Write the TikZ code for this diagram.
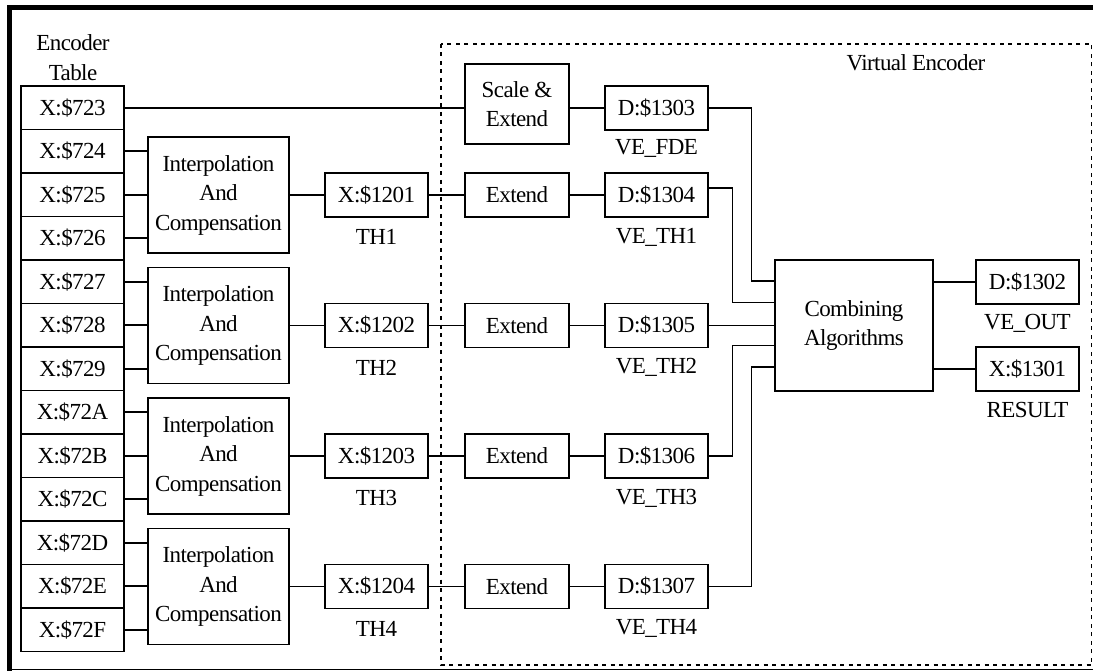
\documentclass[tikz,border=0pt]{standalone}
\usepackage{fontspec}
\setmainfont{Liberation Serif}[LetterSpace=-2.5]
\usetikzlibrary{calc}
\begin{document}
\begin{tikzpicture}[x=1pt,y=-1pt,
  txt/.style={inner sep=0pt,align=center,font=\fontsize{23}{29.5}\selectfont},
  box/.style={txt,draw,line width=1.3pt},
  cell/.style={box,minimum width=103pt,minimum height=43.5pt},
  reg/.style={box,minimum width=103pt,minimum height=44pt},
  procbox/.style={box,minimum width=141pt,minimum height=116pt},
  extbox/.style={box,minimum width=104pt,minimum height=44pt},
  wire/.style={line width=1.6pt},
  region/.style={line width=1.5pt,dash pattern=on 4pt off 4.5pt}]
\useasboundingbox (0,0) rectangle (1093,671);

% outer frame
\draw[line width=5.5pt] (1093,7.7) -- (9.3,7.7) -- (9.3,671);
\draw[line width=1.3pt] (9.3,669.3) -- (1093,669.3);

% virtual encoder region
\draw[region] (441,44) rectangle (1091.5,665);
\node[txt] (vetitle) at (916,63) {Virtual Encoder};

% encoder table
\node[txt] (enctitle) at (73,57.5) {Encoder\\Table};
\foreach \lab [count=\i from 0] in {723,724,725,726,727,728,729,72A,72B,72C,72D,72E,72F}
  \node[cell] (enc\i) at (72.5,{86+43.5*(\i+0.5)}) {X:\$\lab};

% first entry goes straight to the scale & extend stage
\node[extbox,minimum height=80pt] (sext) at (517,104) {Scale \&\\Extend};
\node[reg] (d3) at (656.5,108) {D:\$1303};
\node[txt] (l3) at (656.5,148) {VE\_FDE};
\draw[wire] (enc0.east) -- (sext.west |- enc0.east);
\draw[wire] (sext.east |- d3.west) -- (d3.west);

% four interpolation channels
\foreach \k/\th/\dd/\ve [count=\n from 1] in {0/1201/1304/VE\_TH1,1/1202/1305/VE\_TH2,2/1203/1306/VE\_TH3,3/1204/1307/VE\_TH4} {
  \node[procbox] (ip\n) at (218.5,{195+130.5*\k}) {Interpolation\\And\\Compensation};
  \node[reg] (th\n) at (376.5,{195+130.5*\k}) {X:\$\th};
  \node[txt] (thl\n) at (376.5,{237+130.5*\k}) {TH\n};
  \node[extbox] (ex\n) at (517,{195+130.5*\k}) {Extend};
  \node[reg] (dv\n) at (656.5,{195+130.5*\k}) {D:\$\dd};
  \node[txt] (dvl\n) at (656.5,{237+130.5*\k}) {\ve};
  \draw[wire] (ip\n.east) -- (th\n.west);
  \draw[wire] (th\n.east) -- (ex\n.west);
  \draw[wire] (ex\n.east) -- (dv\n.west);
}
\foreach \n/\a/\b/\c in {1/1/2/3,2/4/5/6,3/7/8/9,4/10/11/12} {
  \draw[wire] (enc\a.east) -- (ip\n.west |- enc\a.east);
  \draw[wire] (enc\b.east) -- (ip\n.west |- enc\b.east);
  \draw[wire] (enc\c.east) -- (ip\n.west |- enc\c.east);
}

% combining stage
\node[box,minimum width=158pt,minimum height=131pt] (comb) at (854,325.5) {Combining\\Algorithms};
\coordinate (ci1) at ($(comb.north west)+(0,21.5)$);
\coordinate (ci2) at ($(comb.north west)+(0,43)$);
\coordinate (ci4) at ($(comb.north west)+(0,86)$);
\coordinate (ci5) at ($(comb.north west)+(0,107.5)$);
\draw[wire] (d3.east) -- ++(43,0) |- (ci1);
\draw[wire] ($(dv1.east)+(0,-7)$) -- ++(24,0) |- (ci2);
\draw[wire] (dv2.east) -- (comb.west |- dv2.east);
\draw[wire] (dv3.east) -- ++(24,0) |- (ci4);
\draw[wire] (dv4.east) -- ++(43,0) |- (ci5);

% outputs
\node[reg] (out) at (1027.5,282) {D:\$1302};
\node[txt] (outl) at (1027.5,323) {VE\_OUT};
\node[reg] (res) at (1027.5,369) {X:\$1301};
\node[txt] (resl) at (1027.5,410) {RESULT};
\draw[wire] (comb.east |- out.west) -- (out.west);
\draw[wire] (comb.east |- res.west) -- (res.west);
\end{tikzpicture}
\end{document}
